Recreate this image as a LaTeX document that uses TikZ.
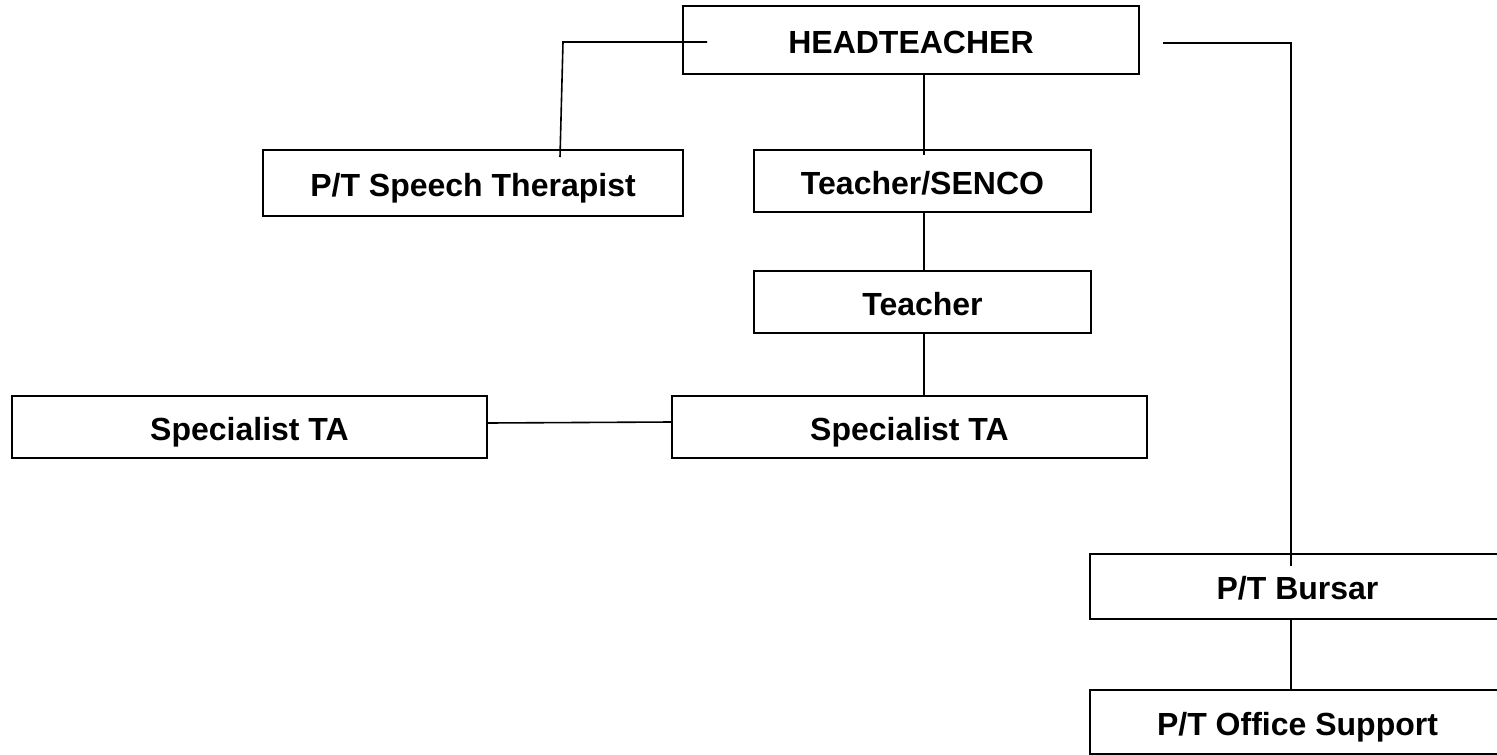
\documentclass[tikz,border=0pt]{standalone}
\usepackage{fontspec}
\setmainfont{Liberation Sans}
\begin{document}
\begin{tikzpicture}[x=1pt,y=-1pt,
  box/.style={draw=black,line width=1.6pt,inner sep=0pt,text height=26pt,text depth=0pt,font=\fontsize{32}{36}\selectfont\bfseries,text=black},
  conn/.style={draw=black,line width=1.6pt}]
\useasboundingbox (0,0) rectangle (1497,755);
\begin{scope}
\clip (0,0) rectangle (1497,755);
\node[box,minimum width=456pt,minimum height=68pt] (head) at (911,40) {HEADTEACHER};
\node[box,minimum width=420pt,minimum height=66pt] (speech) at (473,183) {P/T Speech Therapist};
\node[box,minimum width=337pt,minimum height=62pt] (senco) at (922.5,181) {Teacher/SENCO};
\node[box,minimum width=337pt,minimum height=62pt] (teacher) at (922.5,302) {Teacher};
\node[box,minimum width=475pt,minimum height=62pt] (staL) at (249.5,427) {Specialist TA};
\node[box,minimum width=475pt,minimum height=62pt] (staR) at (909.5,427) {Specialist TA};
\node[box,minimum width=415pt,minimum height=65pt] (bursar) at (1297.5,586.5) {P/T Bursar};
\node[box,minimum width=415pt,minimum height=64pt] (office) at (1297.5,722) {P/T Office Support};

\coordinate (hl) at (707,42);
\coordinate (hlc) at (563,42);
\coordinate (st) at (560,157);
\coordinate (hr) at (1163,43);
\coordinate (hrc) at (1291,43);
\coordinate (bt) at (1291,566);

\draw[conn] (hl) -- (hlc) -- (st);
\draw[conn] (hr) -- (hrc) -- (bt);
\draw[conn] (head.south -| 924,0) ++(0,-2) -- (924,155);
\draw[conn] (senco.south -| 924,0) -- (teacher.north -| 924,0);
\draw[conn] (teacher.south -| 924,0) -- (staR.north -| 924,0);
\draw[conn] (staL.east |- 0,423) -- (staR.west |- 0,422);
\draw[conn] (bursar.south -| 1291,0) -- (office.north -| 1291,0);
\end{scope}
\end{tikzpicture}
\end{document}
